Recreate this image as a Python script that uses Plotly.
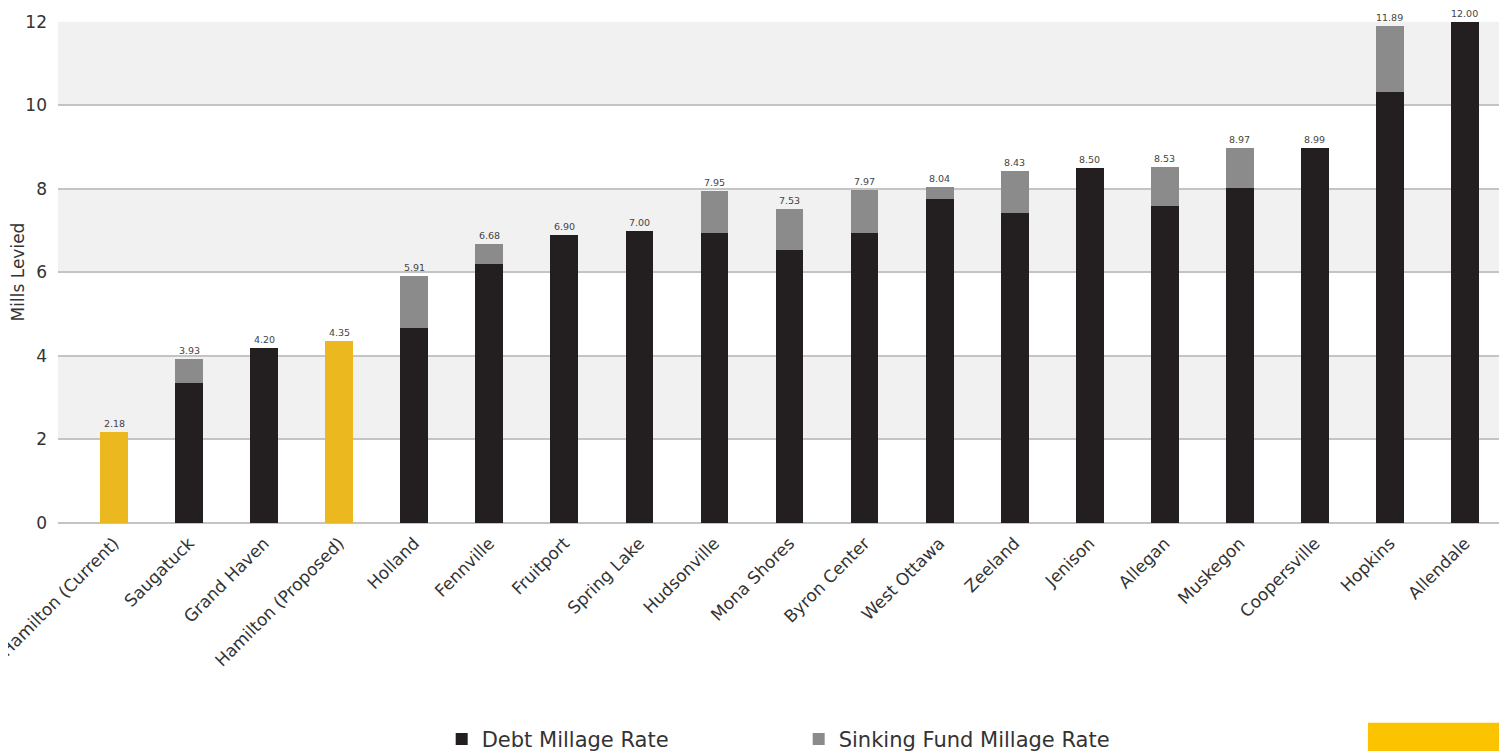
import plotly.graph_objects as go

categories = ["Hamilton (Current)", "Saugatuck", "Grand Haven", "Hamilton (Proposed)", "Holland",
              "Fennville", "Fruitport", "Spring Lake", "Hudsonville", "Mona Shores", "Byron Center",
              "West Ottawa", "Zeeland", "Jenison", "Allegan", "Muskegon", "Coopersville", "Hopkins",
              "Allendale"]
debt = [2.18, 3.35, 4.20, 4.35, 4.68, 6.19, 6.90, 7.00, 6.95, 6.54, 6.95, 7.75, 7.43, 8.50, 7.59,
        8.01, 8.99, 10.33, 12.00]
sinking = [0, 0.58, 0, 0, 1.23, 0.49, 0, 0, 1.00, 0.99, 1.02, 0.29, 1.00, 0, 0.94, 0.96, 0, 1.56, 0]
highlight = ["Hamilton (Current)", "Hamilton (Proposed)"]
y_ticks = [0, 2, 4, 6, 8, 10, 12]

DARK = "#231f20"
GRAY = "#8b8b8b"
YELLOW = "#ebb81f"
FONT = "'DejaVu Sans', sans-serif"

debt_plain = [None if c in highlight else d for c, d in zip(categories, debt)]
debt_high = [d if c in highlight else None for c, d in zip(categories, debt)]
totals = [round(d + s, 2) for d, s in zip(debt, sinking)]

fig = go.Figure()
fig.add_trace(go.Bar(x=categories, y=debt_plain, name="Debt Millage Rate",
                     marker=dict(color=DARK, line=dict(width=0)), width=0.37, legendrank=1))
fig.add_trace(go.Bar(x=categories, y=debt_high, name="Hamilton", showlegend=False,
                     marker=dict(color=YELLOW, line=dict(width=0)), width=0.37))
fig.add_trace(go.Bar(x=categories, y=sinking, name="Sinking Fund Millage Rate",
                     marker=dict(color=GRAY, line=dict(width=0)), width=0.37, legendrank=2))

annotations = []
for c, t in zip(categories, totals):
    annotations.append(dict(x=c, y=t, text=f"{t:.2f}", showarrow=False, yanchor="bottom",
                            yshift=1, font=dict(size=9.5, color="#444444", family=FONT)))

shapes = []
for lo, hi in [(2, 4), (6, 8), (10, 12)]:
    shapes.append(dict(type="rect", xref="paper", yref="y", x0=0, x1=1, y0=lo, y1=hi,
                       fillcolor="#f1f1f1", line=dict(width=0), layer="below"))
# logo placeholder block
shapes.append(dict(type="rect", xref="paper", yref="paper", x0=0.904, x1=1.04, y0=-0.46, y1=-0.398,
                   fillcolor="#fcc300", line=dict(width=0)))

fig.update_layout(
    barmode="stack",
    width=1499, height=743,
    margin=dict(l=50, r=0, t=13, b=228, autoexpand=False),
    paper_bgcolor="white", plot_bgcolor="rgba(0,0,0,0)",
    font=dict(family=FONT, color="#333333"),
    showlegend=True,
    legend=dict(orientation="h", x=0.2648, xanchor="left", y=-0.431, yanchor="middle",
                font=dict(size=21, color="#333333", family=FONT), traceorder="normal",
                entrywidth=312, entrywidthmode="pixels", itemsizing="constant"),
    annotations=annotations,
    shapes=shapes,
    bargap=0.5,
)
fig.update_xaxes(range=[-0.747, 18.56], tickangle=-45, tickfont=dict(size=17, color="#333333"),
                 showgrid=False, ticks="", showline=False, automargin=False, ticklabelstandoff=6)
fig.update_yaxes(range=[0, 12.02], tickvals=y_ticks, tickfont=dict(size=17, color="#333333"),
                 showgrid=True, gridcolor="#c4c4c4", gridwidth=1.5, zeroline=True, zerolinecolor="#c4c4c4",
                 zerolinewidth=2, ticklabelstandoff=10, automargin=False,
                 title=dict(text="Mills Levied", font=dict(size=17, color="#333333"), standoff=10))

fig.write_html("out.html")
